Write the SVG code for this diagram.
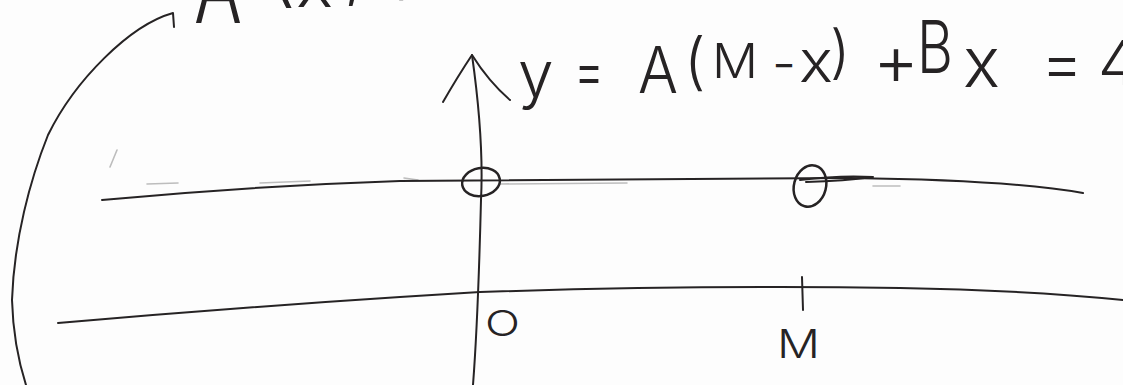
<svg xmlns="http://www.w3.org/2000/svg" width="1123" height="385" viewBox="0 0 1123 385">
<style>
.ink{fill:none;stroke:#262324;stroke-width:2;stroke-linecap:round;stroke-linejoin:round}
.thick{stroke-width:2.5}
.faint{fill:none;stroke:#bdbdbd;stroke-width:1.6;stroke-linecap:round}
.t{font-family:Inter,"Liberation Sans",sans-serif;font-weight:300;fill:#262324}
</style>
<rect width="1123" height="385" fill="#fdfdfd"/>
<g id="top-fragment" class="t">
<text x="194" y="23" font-size="100" textLength="48" lengthAdjust="spacingAndGlyphs">A</text>
<text x="268" y="-3" font-size="80">(</text>
<text x="296" y="7" font-size="70">x</text>
<text x="344" y="-6" font-size="70">,</text>
<text x="392" y="-14" font-size="70">y</text>
</g>
<g id="arc">
<path class="ink" d="M174,27 L173,13 C130,25 75,80 48,135 C30,180 14,240 12,300 C13,335 18,360 26,385"/>
</g>
<g id="faint-marks">
<path class="faint" d="M147,184 L178,183 M260,183 L310,181 M500,184 L627,183 M873,186 L900,186 M404,178 L418,180 M110,167 L117,150"/>
</g>
<g id="upper-line">
<path class="ink" d="M102,200 Q250,186 400,181 L850,178 Q1010,180 1083,193"/>
</g>
<g id="lower-line">
<path class="ink" d="M58,323 Q230,308 400,297 L480,292 Q700,285 900,288 Q1020,290 1123,300"/>
</g>
<g id="y-axis">
<path class="ink" d="M472,55 Q484,140 481,200 Q478,320 473,385"/>
<path class="ink" d="M443,102 Q458,76 472,55 Q489,82 510,100"/>
</g>
<g id="point-origin">
<ellipse class="ink thick" cx="481" cy="182" rx="19" ry="14" transform="rotate(-10 481 182)"/>
</g>
<g id="point-M">
<ellipse class="ink thick" cx="810" cy="186" rx="16" ry="21" transform="rotate(15 810 186)"/>
<path class="ink" d="M800,180 Q840,175 873,177 Q845,181 806,182"/>
</g>
<g id="tick-M">
<path class="ink" d="M802,277 L803,310"/>
</g>
<g id="labels" class="t">
<text x="485" y="336" font-size="36" textLength="35" lengthAdjust="spacingAndGlyphs">O</text>
<text x="777" y="358" font-size="39" textLength="43" lengthAdjust="spacingAndGlyphs">M</text>
</g>
<g id="equation" class="t">
<text x="518" y="97" font-size="64">y</text>
<text x="574" y="93" font-size="64" textLength="30" lengthAdjust="spacingAndGlyphs">=</text>
<text x="638" y="93" font-size="64" textLength="40" lengthAdjust="spacingAndGlyphs">A</text>
<text x="684" y="83" font-size="62">(</text>
<text x="712" y="78" font-size="48" textLength="46" lengthAdjust="spacingAndGlyphs">M</text>
<text x="772" y="80" font-size="50" textLength="24" lengthAdjust="spacingAndGlyphs">−</text>
<text x="799" y="82" font-size="58" textLength="34" lengthAdjust="spacingAndGlyphs">x</text>
<text x="830" y="72" font-size="58">)</text>
<text x="873" y="85" font-size="70" textLength="46" lengthAdjust="spacingAndGlyphs">+</text>
<text x="917" y="73" font-size="73" textLength="36" lengthAdjust="spacingAndGlyphs">B</text>
<text x="963" y="87" font-size="70" textLength="37" lengthAdjust="spacingAndGlyphs">x</text>
<text x="1041" y="86" font-size="66" textLength="42" lengthAdjust="spacingAndGlyphs">=</text>
<text x="1098" y="85" font-size="62">4</text>
</g>
</svg>
